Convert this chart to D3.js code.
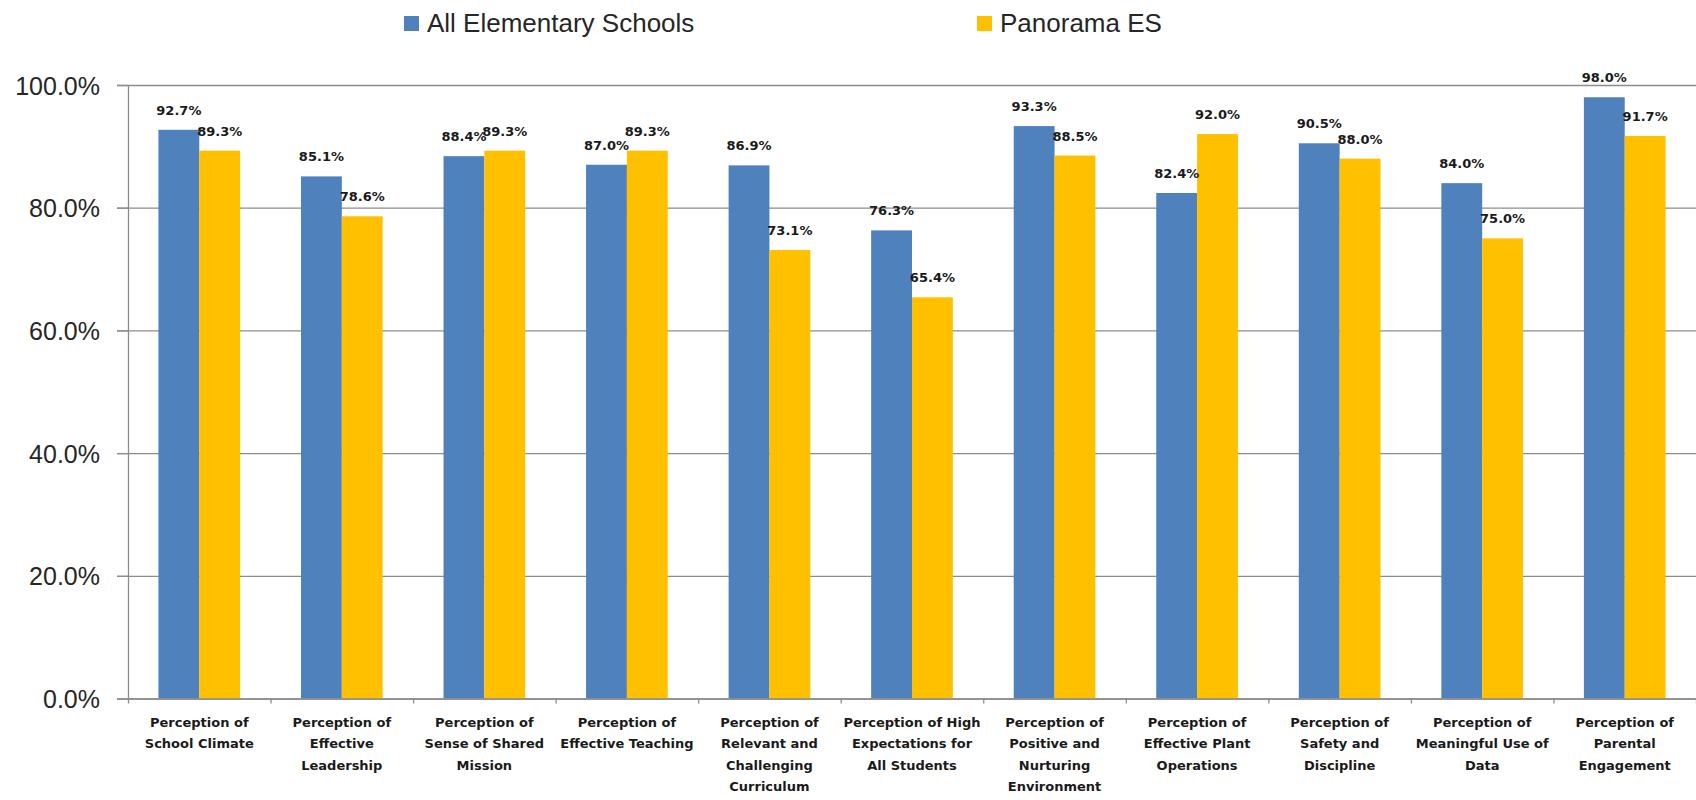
<!DOCTYPE html>
<html>
<head>
<meta charset="utf-8">
<script src="https://cdn.jsdelivr.net/npm/d3@7"></script>
<style>
  html, body { margin: 0; padding: 0; background: #fff; }
  svg { display: block; }
</style>
</head>
<body>
<svg id="chart" width="1696" height="800"></svg>
<script>
const categories = [
  ["Perception of", "School Climate"],
  ["Perception of", "Effective", "Leadership"],
  ["Perception of", "Sense of Shared", "Mission"],
  ["Perception of", "Effective Teaching"],
  ["Perception of", "Relevant and", "Challenging", "Curriculum"],
  ["Perception of High", "Expectations for", "All Students"],
  ["Perception of", "Positive and", "Nurturing", "Environment"],
  ["Perception of", "Effective Plant", "Operations"],
  ["Perception of", "Safety and", "Discipline"],
  ["Perception of", "Meaningful Use of", "Data"],
  ["Perception of", "Parental", "Engagement"]
];
const seriesNames = ["All Elementary Schools", "Panorama ES"];
const allElementary = [92.7, 85.1, 88.4, 87.0, 86.9, 76.3, 93.3, 82.4, 90.5, 84.0, 98.0];
const panoramaES   = [89.3, 78.6, 89.3, 89.3, 73.1, 65.4, 88.5, 92.0, 88.0, 75.0, 91.7];
const yTicks = [0, 20, 40, 60, 80, 100];
const colors = ["#4f81bd", "#ffc000"];

(function () {
const svg = d3.select("#chart");
const mLeft = 128, mRight = 1696, mTop = 85, mBottom = 698.5;

const idx = d3.range(categories.length);
const x0 = d3.scaleBand().domain(idx).range([mLeft, mRight]).paddingInner(0.427).paddingOuter(0.2135);
const x1 = d3.scaleBand().domain([0, 1]).range([0, x0.bandwidth()]);
const y = d3.scaleLinear().domain([0, 100]).range([mBottom, mTop]);
const xEdges = d3.scaleLinear().domain([0, categories.length]).range([mLeft, mRight]);

const gridColor = "#8c8c8c";

// gridlines
svg.append("g")
  .attr("transform", `translate(${mRight},0)`)
  .call(d3.axisLeft(y).tickValues(yTicks).tickSize(mRight - 117).tickFormat(""))
  .call(g => g.select(".domain").remove())
  .call(g => g.selectAll("line").attr("stroke", gridColor).attr("stroke-width", 1.3));

// bars
const data = idx.map(i => [allElementary[i], panoramaES[i]]);
const groups = svg.append("g").selectAll("g").data(data).join("g")
  .attr("transform", (d, i) => `translate(${x0(i)},0)`);
groups.selectAll("rect").data(d => d.map((v, s) => ({v, s}))).join("rect")
  .attr("x", d => x1(d.s))
  .attr("width", x1.bandwidth())
  .attr("y", d => y(d.v))
  .attr("height", d => mBottom - y(d.v))
  .attr("fill", d => colors[d.s]);

// value labels
groups.selectAll("text").data(d => d.map((v, s) => ({v, s}))).join("text")
  .attr("x", d => x1(d.s) + x1.bandwidth() / 2)
  .attr("y", d => y(d.v) - 15)
  .attr("text-anchor", "middle")
  .attr("font-family", "DejaVu Sans")
  .attr("font-weight", "bold")
  .attr("font-size", 13)
  .attr("fill", "#1a1a1a")
  .text(d => d.v.toFixed(1) + "%");

// y axis
svg.append("g")
  .attr("transform", `translate(${mLeft},0)`)
  .call(d3.axisLeft(y).tickValues(yTicks).tickSize(11).tickSizeOuter(0).tickPadding(17)
    .tickFormat(d => d.toFixed(1) + "%"))
  .call(g => g.select(".domain").attr("stroke", gridColor).attr("stroke-width", 1.3))
  .call(g => g.selectAll("line").attr("stroke", gridColor).attr("stroke-width", 1.3))
  .call(g => g.selectAll("text")
    .attr("font-family", "Liberation Sans")
    .attr("font-size", 25)
    .attr("fill", "#262626")
    .attr("dy", "0.36em"));

// x axis (ticks at category boundaries)
svg.append("g")
  .attr("transform", `translate(0,${mBottom})`)
  .call(d3.axisBottom(xEdges).tickValues(d3.range(categories.length + 1)).tickSize(5).tickSizeOuter(0).tickFormat(""))
  .call(g => g.select(".domain").attr("stroke", gridColor).attr("stroke-width", 1.3))
  .call(g => g.selectAll("line").attr("stroke", gridColor).attr("stroke-width", 1.3));

// category labels
const lbl = svg.append("g").selectAll("text").data(categories).join("text")
  .attr("x", (d, i) => x0(i) + x0.bandwidth() / 2)
  .attr("y", 727)
  .attr("text-anchor", "middle")
  .attr("font-family", "DejaVu Sans")
  .attr("font-weight", "bold")
  .attr("font-size", 13)
  .attr("fill", "#1a1a1a");
lbl.selectAll("tspan").data(d => d).join("tspan")
  .attr("x", function() { return d3.select(this.parentNode).attr("x"); })
  .attr("dy", (d, j) => j === 0 ? 0 : 21.3)
  .text(d => d);

// legend
const legendX = [404, 977];
const leg = svg.append("g").selectAll("g").data(seriesNames).join("g")
  .attr("transform", (d, i) => `translate(${legendX[i]},0)`);
leg.append("rect").attr("x", 0).attr("y", 16).attr("width", 15).attr("height", 15)
  .attr("fill", (d, i) => colors[i]);
leg.append("text").attr("x", 23).attr("y", 32)
  .attr("font-family", "Liberation Sans")
  .attr("font-size", 26)
  .attr("fill", "#262626")
  .text(d => d);
})();
</script>
</body>
</html>
